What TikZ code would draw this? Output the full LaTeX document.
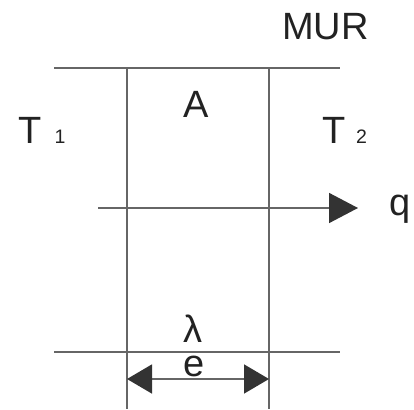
\documentclass[tikz,border=0pt]{standalone}
\usepackage{fontspec}
\setmainfont{Liberation Sans}
\usetikzlibrary{arrows.meta}
\definecolor{linegray}{HTML}{666666}
\definecolor{headgray}{HTML}{333333}
\definecolor{txt}{HTML}{222222}
\tikzset{
  wall/.style={draw=linegray, line width=1.6pt},
  lbl/.style={inner sep=0pt, anchor=base, text=txt, font=\fontsize{38}{40}\selectfont},
  sublbl/.style={inner sep=0pt, anchor=base, text=txt, font=\fontsize{19.5}{21}\selectfont},
  bigtip/.style={-{Triangle[length=29pt,width=30pt,color=headgray,fill=headgray]}},
  dimtip/.style={{Triangle[length=25pt,width=29pt,color=headgray,fill=headgray]}-{Triangle[length=25pt,width=29pt,color=headgray,fill=headgray]}}
}
\begin{document}
\begin{tikzpicture}[x=1pt,y=-1pt]
\useasboundingbox (0,0) rectangle (414,409);
% coordinates
\coordinate (tl) at (54,68);
\coordinate (tr) at (340,68);
\coordinate (bl) at (54,352);
\coordinate (br) at (340,352);
\coordinate (v1t) at (127,68);
\coordinate (v1b) at (127,409);
\coordinate (v2t) at (269,68);
\coordinate (v2b) at (269,409);
\coordinate (qs) at (98,208);
\coordinate (qe) at (358,208);
\coordinate (el) at (127,379);
\coordinate (er) at (269,379);
% lines
\draw[wall] (tl) -- (tr);
\draw[wall] (bl) -- (br);
\draw[wall] (v1t) -- (v1b);
\draw[wall] (v2t) -- (v2b);
\draw[wall, bigtip] (qs) -- (qe);
\draw[wall, dimtip] (el) -- (er);
% labels
\node[lbl, anchor=base west] (mur) at (282,40) {MUR};
\node[lbl] (a) at (196.5,117) {A};
\node[lbl] (t1) at (30,143) {T};
\node[sublbl] (s1) at (60,143) {1};
\node[lbl] (t2) at (334,143) {T};
\node[sublbl] (s2) at (361.5,143) {2};
\node[lbl] (q) at (400,215) {q};
\node[lbl] (lam) at (192.5,342) {λ};
\node[lbl] (e) at (194.5,376) {e};
\end{tikzpicture}
\end{document}
